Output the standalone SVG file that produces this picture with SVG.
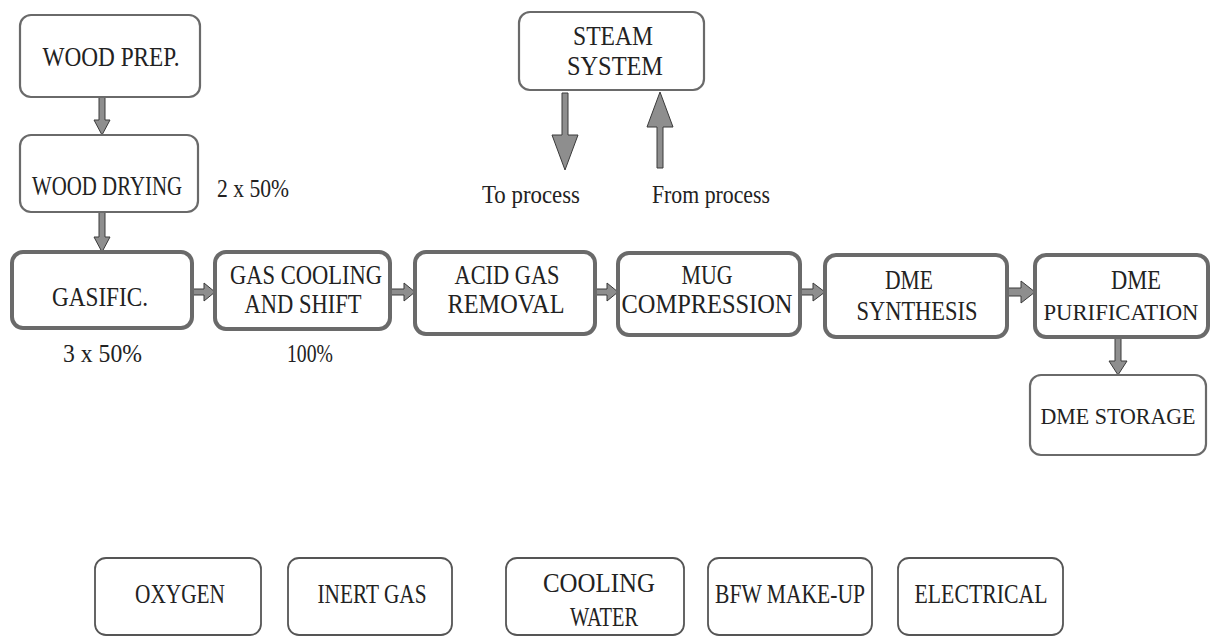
<svg xmlns="http://www.w3.org/2000/svg" width="1210" height="637" viewBox="0 0 1210 637">
<style>
.bx{fill:#fff;stroke:#6a6a6a;stroke-width:2.2}
.bxt{fill:#fff;stroke:#6a6a6a;stroke-width:4}
.bxl{fill:#fff;stroke:#555;stroke-width:1.8}
.t{font-family:"Liberation Serif","Times New Roman",serif;font-size:27px;fill:#222;text-anchor:middle}
.s{font-size:24px}
.n{font-family:"Liberation Serif","Times New Roman",serif;font-size:26px;fill:#222}
.ar{fill:#8e8e8e;stroke:#3a3a3a;stroke-width:1;stroke-linejoin:miter}
</style>
<rect width="1210" height="637" fill="#fff"/>
<g id="connectors">
<polygon class="ar" points="99,97 105,97 105,120 110,120 102,135 94,120 99,120"/>
<polygon class="ar" points="99,212 105,212 105,237 110,237 102,252 94,237 99,237"/>
<polygon class="ar" points="192,289 204,289 204,283 215,292 204,301 204,295 192,295"/>
<polygon class="ar" points="390,289 404,289 404,283 415,292 404,301 404,295 390,295"/>
<polygon class="ar" points="595,289 607,289 607,283 618,292 607,301 607,295 595,295"/>
<polygon class="ar" points="800,289 813,289 813,283 825,292 813,301 813,295 800,295"/>
<polygon class="ar" points="1007,288 1021,288 1021,281 1035,292 1021,303 1021,296 1007,296"/>
<polygon class="ar" points="1115,337 1121,337 1121,361 1127,361 1118,375 1109,361 1115,361"/>
<polygon class="ar" points="562,93 568,93 568,135 578,135 565,170 552,135 562,135"/>
<polygon class="ar" points="657,168 663,168 663,127 673,127 660,92 647,127 657,127"/>
</g>
<g id="wood-prep"><rect class="bx" x="20" y="15" width="180" height="82" rx="11"/><text class="t" x="111" y="66" textLength="137" lengthAdjust="spacingAndGlyphs">WOOD PREP.</text></g>
<g id="wood-drying"><rect class="bx" x="20" y="135" width="178" height="77" rx="11"/><text class="t" x="107" y="195" textLength="150" lengthAdjust="spacingAndGlyphs">WOOD DRYING</text><text class="n" x="217" y="197" textLength="72" lengthAdjust="spacingAndGlyphs">2 x 50%</text></g>
<g id="gasific"><rect class="bxt" x="12" y="252" width="180" height="76" rx="11"/><text class="t" x="100" y="306" textLength="96" lengthAdjust="spacingAndGlyphs">GASIFIC.</text><text class="n" x="63" y="362" textLength="79" lengthAdjust="spacingAndGlyphs">3 x 50%</text></g>
<g id="gas-cooling"><rect class="bxt" x="215" y="252" width="175" height="77" rx="11"/><text class="t" x="306" y="284" textLength="152" lengthAdjust="spacingAndGlyphs">GAS COOLING</text><text class="t" x="303" y="313" textLength="117" lengthAdjust="spacingAndGlyphs">AND SHIFT</text><text class="n" x="287" y="362" textLength="46" lengthAdjust="spacingAndGlyphs">100%</text></g>
<g id="acid-gas"><rect class="bxt" x="415" y="252" width="180" height="82" rx="11"/><text class="t" x="507" y="284" textLength="105" lengthAdjust="spacingAndGlyphs">ACID GAS</text><text class="t" x="506" y="313" textLength="117" lengthAdjust="spacingAndGlyphs">REMOVAL</text></g>
<g id="mug"><rect class="bxt" x="618" y="253" width="182" height="82" rx="11"/><text class="t" x="707" y="284" textLength="51" lengthAdjust="spacingAndGlyphs">MUG</text><text class="t" x="707" y="313" textLength="171" lengthAdjust="spacingAndGlyphs">COMPRESSION</text></g>
<g id="dme-synthesis"><rect class="bxt" x="825" y="255" width="182" height="82" rx="11"/><text class="t" x="909" y="289" textLength="48" lengthAdjust="spacingAndGlyphs">DME</text><text class="t" x="917" y="320" textLength="121" lengthAdjust="spacingAndGlyphs">SYNTHESIS</text></g>
<g id="dme-purification"><rect class="bxt" x="1035" y="255" width="173" height="82" rx="11"/><text class="t" x="1136" y="289" textLength="50" lengthAdjust="spacingAndGlyphs">DME</text><text class="t s" x="1121" y="320" textLength="155" lengthAdjust="spacingAndGlyphs">PURIFICATION</text></g>
<g id="dme-storage"><rect class="bx" x="1030" y="375" width="176" height="80" rx="11"/><text class="t s" x="1118" y="424" textLength="155" lengthAdjust="spacingAndGlyphs">DME STORAGE</text></g>
<g id="steam-system"><rect class="bx" x="519" y="12" width="185" height="78" rx="11"/><text class="t" x="613" y="45" textLength="80" lengthAdjust="spacingAndGlyphs">STEAM</text><text class="t" x="615" y="75" textLength="96" lengthAdjust="spacingAndGlyphs">SYSTEM</text><text class="n" x="482" y="203" textLength="98" lengthAdjust="spacingAndGlyphs">To process</text><text class="n" x="652" y="203" textLength="118" lengthAdjust="spacingAndGlyphs">From process</text></g>
<g id="oxygen"><rect class="bxl" x="95" y="558" width="166" height="77" rx="11"/><text class="t" x="180" y="603" textLength="90" lengthAdjust="spacingAndGlyphs">OXYGEN</text></g>
<g id="inert-gas"><rect class="bxl" x="288" y="558" width="164" height="77" rx="11"/><text class="t" x="372" y="603" textLength="109" lengthAdjust="spacingAndGlyphs">INERT GAS</text></g>
<g id="cooling-water"><rect class="bxl" x="506" y="558" width="178" height="77" rx="11"/><text class="t" x="599" y="592" textLength="112" lengthAdjust="spacingAndGlyphs">COOLING</text><text class="t" x="604" y="626" textLength="68" lengthAdjust="spacingAndGlyphs">WATER</text></g>
<g id="bfw-makeup"><rect class="bxl" x="708" y="558" width="164" height="77" rx="11"/><text class="t" x="790" y="603" textLength="150" lengthAdjust="spacingAndGlyphs">BFW MAKE-UP</text></g>
<g id="electrical"><rect class="bxl" x="898" y="558" width="165" height="77" rx="11"/><text class="t" x="981" y="603" textLength="133" lengthAdjust="spacingAndGlyphs">ELECTRICAL</text></g>
</svg>
